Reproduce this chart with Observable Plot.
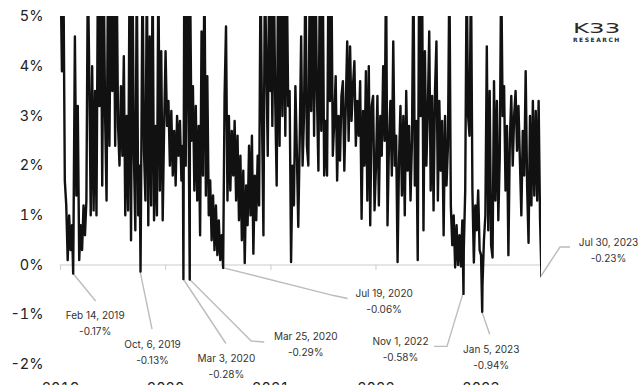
<!DOCTYPE html>
<html><head><meta charset="utf-8">
<script src="https://cdn.jsdelivr.net/npm/d3@7"></script>
<script src="https://cdn.jsdelivr.net/npm/@observablehq/plot@0.6"></script>
<style>
html,body{margin:0;padding:0;background:#fff;overflow:hidden;}
#wrap{position:relative;width:640px;height:385px;overflow:hidden;}
.logo{position:absolute;left:573px;top:20px;color:#2a2a2a;font-family:"DejaVu Sans",sans-serif;line-height:1;}
.logo .k{display:inline-block;font-size:14px;letter-spacing:0px;font-weight:400;transform:scaleX(1.75);transform-origin:left top;}
.logo .r{font-size:6px;letter-spacing:1.5px;font-weight:bold;margin-top:1px;}
</style></head><body><div id="wrap"></div>
<script>
// Values sampled every 5 days from Jan 1 of each year (in %)
const v2019 = [6, 3.9, 6, 1.7, 1.2, 0.1, 1.0, 0.3, 0.8, 0.5,
  4.6, 1.4, 3.2, 0.1, 0.8, 0.3, 1.2, 0.6, 1.3, 6,
  3.8, 1.0, 4.0, 1.1, 3.5, 1.0, 6, 3.2, 6, 1.6,
  6, 3.0, 1.3, 6, 2.4, 6, 3.5, 6, 2.4, 6,
  2.8, 2.0, 3.6, 2.2, 4.2, 1.0, 3.0, 1.1, 6, 0.5,
  6, 2.2, 0.7, 6, 1.0, 2.0, 1.5, 6, 2.3, 1.3,
  6, 0.8, 4.6, 1.2, 6, 0.9, 2.8, 1.0, 6, 1.5,
  4.3, 0.9, 2.8];
const v2020 = [4.3, 2.8, 3.3, 2.0, 3.1, 1.8, 2.7, 1.6, 3.0, 2.2,
  2.9, 1.7, 2.4, 6, 2.0, 6, 3.0, 6, 2.5, 3.6,
  1.5, 3.2, 1.3, 2.8, 0.6, 4.7, 1.8, 6, 1.4, 3.8,
  1.0, 1.7, 0.5, 1.4, 0.3, 1.2, 0.2, 0.9, 0.1, 0.6,
  0.4, 3.4, 4.8, 1.3, 3.0, 1.5, 2.7, 1.8, 2.9, 1.3,
  2.6, 0.9, 2.2, 0.5, 1.9, 0.04, 1.6, 0.8, 2.4, 1.0,
  2.6, 0.23, 1.8, 0.9, 2.2, 1.2, 6, 3.0, 0.6, 6,
  4.1, 2.2, 6, 3.5];
const v2021 = [6, 2.8, 6, 3.3, 1.6, 6, 2.4, 6, 3.0, 6,
  2.6, 6, 3.2, 3.5, 0.06, 2.0, 1.2, 3.6, 2.3, 0.77,
  2.5, 4.6, 2.0, 3.0, 6, 2.4, 2.0, 6, 3.1, 6,
  2.6, 6, 3.4, 1.9, 6, 2.7, 6, 1.8, 2.9, 1.8,
  6, 3.3, 6, 2.2, 2.9, 3.8, 1.7, 3.0, 2.1, 3.4,
  3.7, 1.9, 3.2, 4.5, 2.5, 4.4, 2.9, 3.6, 4.1, 2.4,
  3.3, 2.6, 3.7, 0.93, 3.1, 2.0, 3.9, 1.3, 4.0, 0.8,
  3.2, 3.4, 1.1];
const v2022 = [2.0, 3.4, 1.2, 3.0, 2.2, 4.0, 2.5, 6, 0.8, 2.4,
  3.3, 1.8, 4.5, 2.0, 2.6, 0.06, 2.1, 3.2, 1.4, 3.0,
  1.0, 3.5, 1.9, 2.8, 1.3, 2.5, 6, 1.6, 2.9, 0.1,
  6, 3.0, 6, 0.7, 4.3, 2.0, 3.1, 4.7, 1.5, 3.4,
  1.1, 3.5, 4.5, 1.3, 3.3, 1.9, 2.9, 0.6, 3.0, 1.6,
  2.4, 6, 1.2, 0.4, 1.0, -0.05, 0.8, 0.0, 0.6, -0.03,
  0.9, 0.3, 1.5, 6, 3.0, 2.6, 6, 1.5, 0.05, 1.2,
  0.7, 1.5, 0.3];
const v2023 = [0.2, -0.4, 0.5, 1.0, 4.4, 0.7, 3.5, 0.4, 0.15, 3.7,
  1.3, 3.3, 0.9, 2.2, 6, 3.0, 3.6, 1.5, 2.8, 0.2,
  2.5, 3.4, 2.0, 3.0, 3.5, 2.3, 3.2, 2.1, 1.0, 2.7,
  1.8, 3.9, 1.6, 0.45, 3.0, 1.2, 3.3, 1.4, 3.1, 1.3,
  3.3, 0.9];
const sampleStepDays = 5;

// Annotated lows
const annDates = ["2019-02-14","2019-10-06","2020-03-03","2020-03-25","2020-07-19","2022-11-01","2023-01-05","2023-07-30"];
const annValues = [-0.17, -0.13, -0.28, -0.29, -0.06, -0.58, -0.94, -0.23];
const annLabels = ["Feb 14, 2019","Oct, 6, 2019","Mar 3, 2020","Mar 25, 2020","Jul 19, 2020","Nov 1, 2022","Jan 5, 2023","Jul 30, 2023"];

// Axis ticks
const yTicks = [-2, -1, 0, 1, 2, 3, 4, 5];
const xTickYears = [2019, 2020, 2021, 2022, 2023];

// Layout (pixel offsets from each annotated point): leader path and label centre
const annLayout = [
  {leader: [[23, 28]], label: [22, 48]},
  {leader: [[12, 58]], label: [12, 79]},
  {leader: [[43, 65]], label: [43, 86]},
  {leader: [[62, 62], [75, 63]], label: [116, 63]},
  {leader: [[111, 28], [125, 31]], label: [161, 32]},
  {leader: [[-16, 53], [-29, 53]], label: [-63, 54]},
  {leader: [[8, 23]], label: [9, 44]},
  {leader: [[19, -29], [29, -29]], label: [67, -28]}
];

const parse = d3.utcParse("%Y-%m-%d");
const annotations = annDates.map((d, i) => ({date: parse(d), value: annValues[i], label: annLabels[i]}));
const annSet = new Set(annotations.map(a => +a.date));

const years = {2019: v2019, 2020: v2020, 2021: v2021, 2022: v2022, 2023: v2023};
let series = [];
for (const [y, arr] of Object.entries(years)) {
  const start = new Date(Date.UTC(+y, 0, 1));
  arr.forEach((v, i) => {
    const date = d3.utcDay.offset(start, i * sampleStepDays);
    if (!annSet.has(+date)) series.push({date, value: v});
  });
}
series = series.concat(annotations.map(a => ({date: a.date, value: a.value})));
series.sort((a, b) => a.date - b.date);

const xTicks = xTickYears.map(y => new Date(Date.UTC(y, 0, 1)));
const FONT = "Inter, 'DejaVu Sans', sans-serif";

function leaders(index, scales) {
  const g = d3.create("svg:g").attr("fill", "none").attr("stroke", "#bcbcbc").attr("stroke-width", 1.4);
  annotations.forEach((a, k) => {
    const px = scales.x(a.date), py = scales.y(a.value);
    const pts = [[px, py], ...annLayout[k].leader.map(([dx, dy]) => [px + dx, py + dy])];
    g.append("path").attr("d", d3.line()(pts));
  });
  return g.node();
}

const labelMarks = annotations.map((a, k) => Plot.text([a], {
  x: "date", y: "value",
  text: d => d.label + "\n" + d.value.toFixed(2) + "%",
  dx: annLayout[k].label[0], dy: annLayout[k].label[1],
  textAnchor: "middle", lineAnchor: "middle", lineHeight: 1.6,
  fontSize: 10, fill: "#333", fontFamily: FONT
}));

const plot = Plot.plot({
  width: 640, height: 395,
  marginLeft: 60, marginRight: 99, marginTop: 16, marginBottom: 31,
  style: {fontFamily: FONT, background: "#fff", overflow: "visible"},
  x: {type: "utc", domain: [new Date(Date.UTC(2019, 0, 1)), new Date(Date.UTC(2023, 6, 30))]},
  y: {domain: [-2, 5]},
  marks: [
    Plot.ruleY([0], {stroke: "#dcdcdc", strokeWidth: 1.5}),
    Plot.ruleX(xTicks, {x: d => d, y1: 0, y2: -0.11, stroke: "#d4d4d4", strokeWidth: 1.2}),
    Plot.axisY({ticks: yTicks, tickFormat: d => d + "%", tickSize: 0, tickPadding: 17, fontSize: 14.5, color: "#222", label: null}),
    Plot.axisX({ticks: xTicks, tickFormat: d3.utcFormat("%Y"), tickSize: 0, tickPadding: 18, fontSize: 14.5, color: "#222", label: null}),
    leaders,
    Plot.lineY(series, {x: "date", y: "value", stroke: "#111", strokeWidth: 2.4, clip: true}),
    ...labelMarks
  ]
});

const wrap = document.getElementById("wrap");
wrap.appendChild(plot);
const logo = document.createElement("div");
logo.className = "logo";
logo.innerHTML = '<div class="k">K33</div><div class="r">RESEARCH</div>';
wrap.appendChild(logo);
</script></body></html>
